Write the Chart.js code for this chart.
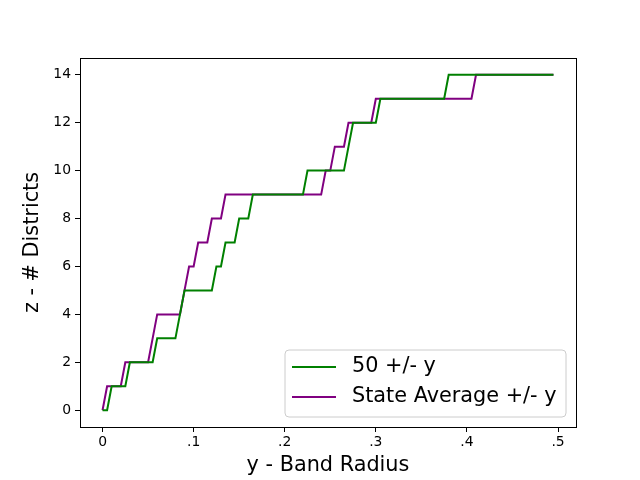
<!DOCTYPE html>
<html>
<head>
<meta charset="utf-8">
<script src="https://cdn.jsdelivr.net/npm/chart.js@4"></script>
<style>
  body { margin: 0; background: #fff; }
  #wrap { width: 640px; height: 480px; }
</style>
</head>
<body>
<div id="wrap"><canvas id="chartCanvas"></canvas></div>
<script>
    // band radius samples (x axis)
    var radius = [
        0, 0.005, 0.01, 0.015, 0.02, 0.025, 0.03, 0.035, 0.04, 0.045,
        0.05, 0.055, 0.06, 0.065, 0.07, 0.075, 0.08, 0.085, 0.09, 0.095,
        0.1, 0.105, 0.11, 0.115, 0.12, 0.125, 0.13, 0.135, 0.14, 0.145,
        0.15, 0.155, 0.16, 0.165, 0.17, 0.175, 0.18, 0.185, 0.19, 0.195,
        0.2, 0.205, 0.21, 0.215, 0.22, 0.225, 0.23, 0.235, 0.24, 0.245,
        0.25, 0.255, 0.26, 0.265, 0.27, 0.275, 0.28, 0.285, 0.29, 0.295,
        0.3, 0.305, 0.31, 0.315, 0.32, 0.325, 0.33, 0.335, 0.34, 0.345,
        0.35, 0.355, 0.36, 0.365, 0.37, 0.375, 0.38, 0.385, 0.39, 0.395,
        0.4, 0.405, 0.41, 0.415, 0.42, 0.425, 0.43, 0.435, 0.44, 0.445,
        0.45, 0.455, 0.46, 0.465, 0.47, 0.475, 0.48, 0.485, 0.49, 0.495
    ];

    // number of districts, 50 +/- y
    var fifty = [
        0, 0, 1, 1, 1, 1, 2, 2, 2, 2,
        2, 2, 3, 3, 3, 3, 3, 4, 5, 5,
        5, 5, 5, 5, 5, 6, 6, 7, 7, 7,
        8, 8, 8, 9, 9, 9, 9, 9, 9, 9,
        9, 9, 9, 9, 9, 10, 10, 10, 10, 10,
        10, 10, 10, 10, 11, 12, 12, 12, 12, 12,
        12, 13, 13, 13, 13, 13, 13, 13, 13, 13,
        13, 13, 13, 13, 13, 13, 14, 14, 14, 14,
        14, 14, 14, 14, 14, 14, 14, 14, 14, 14,
        14, 14, 14, 14, 14, 14, 14, 14, 14, 14
    ];

    // number of districts, state average +/- y
    var stateAvg = [
        0, 1, 1, 1, 1, 2, 2, 2, 2, 2,
        2, 3, 4, 4, 4, 4, 4, 4, 5, 6,
        6, 7, 7, 7, 8, 8, 8, 9, 9, 9,
        9, 9, 9, 9, 9, 9, 9, 9, 9, 9,
        9, 9, 9, 9, 9, 9, 9, 9, 9, 10,
        10, 11, 11, 11, 12, 12, 12, 12, 12, 12,
        13, 13, 13, 13, 13, 13, 13, 13, 13, 13,
        13, 13, 13, 13, 13, 13, 13, 13, 13, 13,
        13, 13, 14, 14, 14, 14, 14, 14, 14, 14,
        14, 14, 14, 14, 14, 14, 14, 14, 14, 14
    ];

    var seriesNames = ["50 +/- y", "State Average +/- y"];
    var xTicks = [0, 0.1, 0.2, 0.3, 0.4, 0.5];
    var xTickLabels = ["0", ".1", ".2", ".3", ".4", ".5"];
    var yTicks = [0, 2, 4, 6, 8, 10, 12, 14];

    var FONT = "'DejaVu Sans', sans-serif";

    var chartData = {
        labels: radius,
        datasets: [
            {
                label: seriesNames[0],
                data: fifty,
                borderColor: "#008000",
                backgroundColor: "#008000",
                borderWidth: 2,
                pointRadius: 0,
                tension: 0
            },
            {
                label: seriesNames[1],
                data: stateAvg,
                borderColor: "#800080",
                backgroundColor: "#800080",
                borderWidth: 2,
                pointRadius: 0,
                tension: 0
            }
        ]
    };

    // frame round the plot + legend box in the lower right, like matplotlib
    var framePlugin = {
        id: "frame",
        afterDraw: function(chart) {
            var ctx = chart.ctx;
            var a = chart.chartArea;
            ctx.save();
            ctx.strokeStyle = "#000";
            ctx.lineWidth = 1;
            ctx.strokeRect(a.left + 0.5, a.top + 0.5, a.right - a.left, a.bottom - a.top);

            // legend
            var bx = 285, by = 350, bw = 281, bh = 67, r = 4;
            ctx.beginPath();
            ctx.moveTo(bx + r, by);
            ctx.arcTo(bx + bw, by, bx + bw, by + bh, r);
            ctx.arcTo(bx + bw, by + bh, bx, by + bh, r);
            ctx.arcTo(bx, by + bh, bx, by, r);
            ctx.arcTo(bx, by, bx + bw, by, r);
            ctx.closePath();
            ctx.fillStyle = "rgba(255,255,255,0.8)";
            ctx.fill();
            ctx.strokeStyle = "#cccccc";
            ctx.stroke();

            ctx.font = "20.8px " + FONT;
            ctx.textBaseline = "middle";
            ctx.textAlign = "left";
            chart.data.datasets.forEach(function(ds, i) {
                var yy = 367 + i * 30;
                ctx.strokeStyle = ds.borderColor;
                ctx.lineWidth = 2;
                ctx.beginPath();
                ctx.moveTo(292, yy);
                ctx.lineTo(336, yy);
                ctx.stroke();
                ctx.fillStyle = "#000";
                ctx.fillText(ds.label, 352, yy);
            });
            ctx.restore();
        }
    };

    var chartOptions = {
        responsive: true,
        maintainAspectRatio: false,
        animation: false,
        layout: { padding: { top: 58, right: 64, left: 0, bottom: 0 } },
        plugins: {
            legend: { display: false },
            tooltip: { enabled: false }
        },
        scales: {
            x: {
                type: "linear",
                min: -0.02475,
                max: 0.51975,
                afterBuildTicks: function(scale) {
                    scale.ticks = xTicks.map(function(v) { return { value: v }; });
                },
                afterFit: function(scale) { scale.height = 53; },
                ticks: {
                    color: "#000",
                    font: { family: FONT, size: 13.9 },
                    padding: 2,
                    maxRotation: 0,
                    autoSkip: false,
                    callback: function(v) {
                        var i = xTicks.indexOf(v);
                        return i >= 0 ? xTickLabels[i] : "";
                    }
                },
                grid: { drawOnChartArea: false, color: "#000", tickLength: 5 },
                border: { color: "#000" },
                title: {
                    display: true,
                    text: "y - Band Radius",
                    color: "#000",
                    font: { family: FONT, size: 20.8 },
                    padding: { bottom: 2 }
                }
            },
            y: {
                type: "linear",
                min: -0.7,
                max: 14.7,
                afterBuildTicks: function(scale) {
                    scale.ticks = yTicks.map(function(v) { return { value: v }; });
                },
                afterFit: function(scale) { scale.width = 80; },
                ticks: {
                    color: "#000",
                    font: { family: FONT, size: 13.9 },
                    padding: 4,
                    autoSkip: false
                },
                grid: { drawOnChartArea: false, color: "#000", tickLength: 5 },
                border: { color: "#000" },
                title: {
                    display: true,
                    text: "z - # Districts",
                    color: "#000",
                    font: { family: FONT, size: 20.8 },
                    padding: { top: 20 }
                }
            }
        }
    };

    window.onload = function() {
        var ctx = document.getElementById("chartCanvas").getContext("2d");
        window.myChart = new Chart(ctx, {
            type: "line",
            data: chartData,
            options: chartOptions,
            plugins: [framePlugin]
        });
    };
</script>
</body>
</html>
